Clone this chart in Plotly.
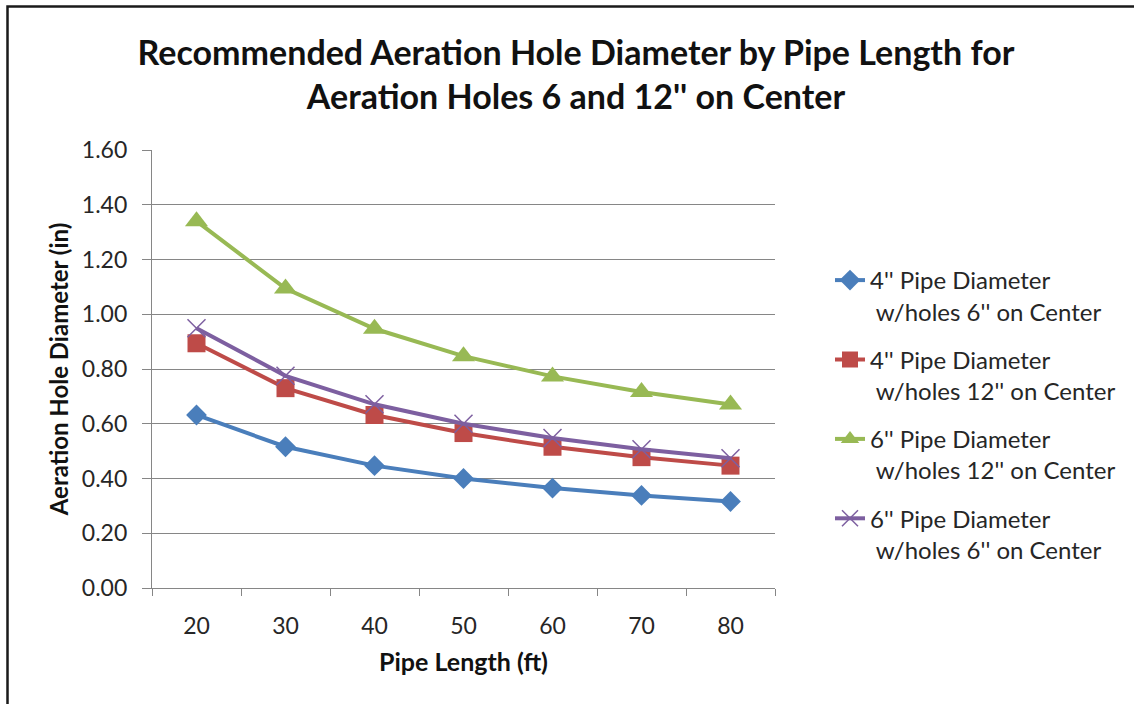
import plotly.graph_objects as go

pipe_length = ["20", "30", "40", "50", "60", "70", "80"]
d4_h6 = [0.632, 0.516, 0.447, 0.400, 0.365, 0.338, 0.316]
d4_h12 = [0.894, 0.730, 0.632, 0.566, 0.516, 0.478, 0.447]
d6_h12 = [1.340, 1.094, 0.947, 0.847, 0.773, 0.716, 0.670]
d6_h6 = [0.949, 0.775, 0.671, 0.600, 0.548, 0.507, 0.474]
y_ticks = [0, 0.2, 0.4, 0.6, 0.8, 1.0, 1.2, 1.4, 1.6]

names = [
    "4'' Pipe Diameter<br>\u00a0w/holes 6'' on Center",
    "4'' Pipe Diameter<br>\u00a0w/holes 12'' on Center",
    "6'' Pipe Diameter<br>\u00a0w/holes 12'' on Center",
    "6'' Pipe Diameter<br>\u00a0w/holes 6'' on Center",
]
series = [d4_h6, d4_h12, d6_h12, d6_h6]
colors = ["#4A7EBB", "#BE4B48", "#98B954", "#7D5FA0"]
symbols = ["diamond", "square", "triangle-up", "x-thin"]
sizes = [16, 18, 20, 18]

FONT = "Lato"
fig = go.Figure()
for i, (nm, ys) in enumerate(zip(names, series)):
    mk = dict(symbol=symbols[i], size=sizes[i], color=colors[i])
    if symbols[i] == "x-thin":
        mk["line"] = dict(color=colors[i], width=1.5)
    fig.add_trace(go.Scatter(
        x=pipe_length, y=ys, name=nm, mode="lines+markers",
        line=dict(color=colors[i], width=4), marker=mk,
        legendgroup=str(i),
    ))

W, H = 1134, 704
L, R, T, B = 152, 775, 150, 588

def px(x):
    return (x - L) / (R - L)

def py(y):
    return (B - y) / (B - T)

fig.update_layout(
    width=W, height=H,
    margin=dict(l=L, r=W - R, t=T, b=H - B),
    paper_bgcolor="white", plot_bgcolor="white",
    font=dict(family=FONT, size=23, color="#262626"),
    title=dict(
        text="<b>Recommended Aeration Hole Diameter by Pipe Length for<br>Aeration Holes 6 and 12'' on Center</b>",
        x=576 / W, xanchor="center", xref="container", y=1 - 65 / H, yanchor="top",
        font=dict(family=FONT, size=34, color="#111111"),
    ),
    xaxis=dict(
        type="category", range=[-0.5, 6.5], tickson="boundaries",
        ticks="outside", ticklen=7, tickcolor="#868686",
        showline=True, linecolor="#868686", linewidth=1.3,
        showgrid=False, zeroline=False,
        ticklabelstandoff=17,
        title=dict(text="<b>Pipe Length (ft)</b>", font=dict(size=25, color="#111111"), standoff=15),
        tickfont=dict(size=23),
    ),
    yaxis=dict(
        range=[0, 1.6], tickvals=y_ticks, tickformat=".2f",
        ticks="outside", ticklen=9, tickcolor="#868686",
        showline=True, linecolor="#868686", linewidth=1.3,
        showgrid=True, gridcolor="#868686", gridwidth=1.3,
        zeroline=False, ticklabelstandoff=10,
        title=dict(text="<b>Aeration Hole Diameter (in)</b>", font=dict(size=24, color="#111111"), standoff=6),
        tickfont=dict(size=23),
    ),
    legend=dict(
        x=px(830), y=py(258), xanchor="left", yanchor="top", valign="top",
        font=dict(size=24), tracegroupgap=14, bgcolor="rgba(0,0,0,0)",
    ),
    showlegend=True,
)

fig.add_shape(type="rect", xref="paper", yref="paper",
              x0=px(7.5), x1=px(1145), y0=py(6.5), y1=py(720),
              line=dict(color="#1a1a1a", width=2.5), layer="above")

fig.write_html("out.html", config={"displayModeBar": False},
               post_script="document.body.style.margin='0px';")
